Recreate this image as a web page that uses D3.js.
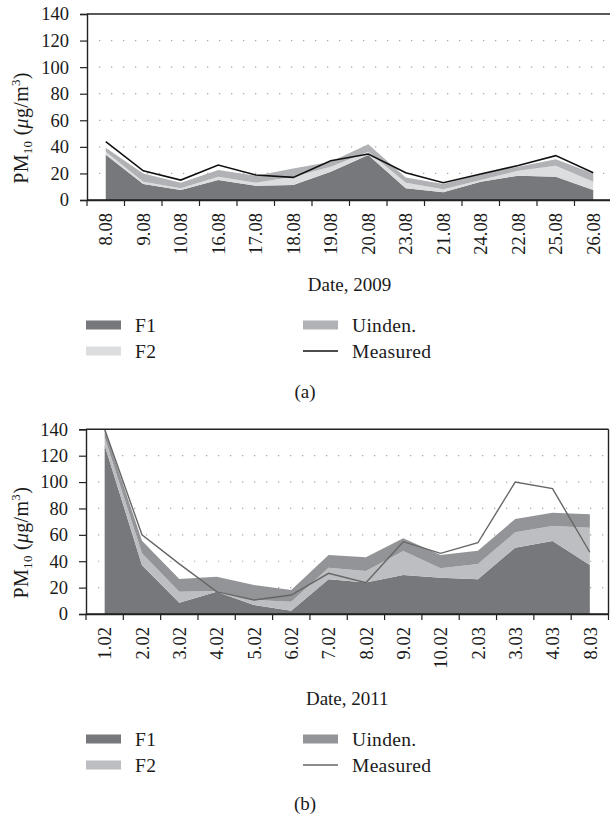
<!DOCTYPE html>
<html>
<head>
<meta charset="utf-8">
<script src="https://cdn.jsdelivr.net/npm/d3@7"></script>
<style>
  body { margin:0; background:#fff; }
  svg { display:block; font-family:"Liberation Serif", "Times New Roman", serif; }
</style>
</head>
<body>
<svg width="610" height="815"></svg>
<script>

// panel (a), 2009
var datesA = ["8.08","9.08","10.08","16.08","17.08","18.08","19.08","20.08","23.08","21.08","24.08","22.08","25.08","26.08"];
var f1A = [34, 12, 7.5, 15, 10.8, 11.3, 21.3, 33.9, 8.8, 5.8, 13.8, 18.3, 17.5, 7.5];
var f2A = [2.4, 1.8, 1.3, 2.5, 2.2, 6.2, 3.7, 2.5, 4.2, 2.2, 1.2, 3.7, 8.3, 6.3];
var unA = [3, 6.2, 4.2, 5.1, 5.3, 6.3, 3.8, 5.6, 4, 4, 4.6, 3, 4.8, 6.2];
var measA = [44, 22, 15, 26.3, 18.8, 17, 29.6, 34.6, 20.5, 13, 19.5, 26, 33.4, 20.5];

// panel (b), 2011
var datesB = ["1.02","2.02","3.02","4.02","5.02","6.02","7.02","8.02","9.02","10.02","2.03","3.03","4.03","8.03"];
var f1B = [128, 37, 8.6, 16.9, 6.8, 2.5, 26.3, 23.8, 29.6, 27.5, 26.3, 50.3, 55.3, 37.1];
var f2B = [6, 9, 8.3, 0.5, 3.8, 6.8, 8.8, 8.8, 18.2, 7.1, 11.6, 11.6, 11.4, 28.3];
var unB = [6, 9.6, 9.6, 10.9, 11.4, 8.9, 9.6, 10.4, 9.6, 10.1, 10.1, 10.1, 10.1, 10.2];
var measB = [140, 60, 38, 17, 10.6, 14.4, 30.8, 23.8, 54.8, 46, 54, 100, 95, 46.8];

var yTicks = [0, 20, 40, 60, 80, 100, 120, 140];
var keys = ["F1", "F2", "Uinden."];

var svg = d3.select("svg");

var drawPanel = function(p)
{
  var rows = p.dates.map(function(d, i) {
    return { date:d, "F1":p.f1[i], "F2":p.f2[i], "Uinden.":p.un[i], meas:p.meas[i] };
  });

  var x = d3.scaleBand().domain(p.dates).range([p.left, p.right]);
  var y = d3.scaleLinear().domain([0, 140]).range([p.bottom, p.top]);
  var cx = function(d) { return x(d.date) + x.bandwidth()/2; };

  var g = svg.append("g");

  g.append("clipPath").attr("id", "clip" + p.id)
    .append("rect")
    .attr("x", p.left).attr("y", p.top)
    .attr("width", p.right - p.left).attr("height", p.bottom - p.top);

  // dotted grid
  g.selectAll(".grid")
    .data(yTicks.slice(1, -1))
    .enter().append("line")
    .attr("x1", p.left + 12).attr("x2", p.right)
    .attr("y1", function(d) { return y(d); })
    .attr("y2", function(d) { return y(d); })
    .attr("stroke", "#a8a8a8")
    .attr("stroke-width", 1.2)
    .attr("stroke-dasharray", "1.3,10.7");

  var stack = d3.stack().keys(keys)(rows);
  var area = d3.area()
    .x(function(d) { return cx(d.data); })
    .y0(function(d) { return y(d[0]); })
    .y1(function(d) { return y(d[1]); });

  var plot = g.append("g").attr("clip-path", "url(#clip" + p.id + ")");
  plot.selectAll("path.layer")
    .data(stack)
    .enter().append("path")
    .attr("d", area)
    .attr("fill", function(d, i) { return p.colors[i]; });

  var line = d3.line()
    .x(cx)
    .y(function(d) { return y(d.meas); });
  plot.append("path")
    .datum(rows)
    .attr("d", line)
    .attr("fill", "none")
    .attr("stroke", p.lineColor)
    .attr("stroke-width", p.lineWidth);

  // frame: top and right
  g.append("line")
    .attr("x1", p.left).attr("x2", p.right)
    .attr("y1", p.top).attr("y2", p.top)
    .attr("stroke", "#222").attr("stroke-width", 1.4);
  g.append("line")
    .attr("x1", p.right).attr("x2", p.right)
    .attr("y1", p.top).attr("y2", p.bottom)
    .attr("stroke", "#222").attr("stroke-width", 1.4);

  // y axis
  var yAxis = d3.axisLeft(y).tickValues(yTicks).tickSize(7).tickPadding(11);
  var ya = g.append("g")
    .attr("transform", "translate(" + p.left + ",0)")
    .call(yAxis);
  ya.select(".domain").attr("stroke", "#222").attr("stroke-width", 1.4);
  ya.selectAll(".tick line").attr("stroke", "#222").attr("stroke-width", 1.2);
  ya.selectAll("text")
    .attr("font-family", "Liberation Serif")
    .attr("font-size", 18.5)
    .attr("fill", "#1a1a1a");

  // x axis: labels at band centres
  var xAxis = d3.axisBottom(x).tickSize(0).tickSizeOuter(0);
  var xa = g.append("g")
    .attr("transform", "translate(0," + p.bottom + ")")
    .call(xAxis);
  xa.select(".domain").attr("stroke", "#222").attr("stroke-width", 1.4);
  xa.selectAll("text")
    .attr("transform", "rotate(-90)")
    .attr("x", -13)
    .attr("y", 0)
    .attr("dy", "0.36em")
    .style("text-anchor", "end")
    .attr("font-family", "Liberation Serif")
    .attr("font-size", 18.5)
    .attr("fill", "#1a1a1a");
  // extend the baseline to the right border
  g.append("line")
    .attr("x1", p.left).attr("x2", p.right)
    .attr("y1", p.bottom).attr("y2", p.bottom)
    .attr("stroke", "#222").attr("stroke-width", 1.4);

  // ticks between categories
  var bounds = p.dates.map(function(d) { return x(d); }).concat([x.range()[1]]);
  g.selectAll(".xtick")
    .data(bounds)
    .enter().append("line")
    .attr("x1", function(d) { return d; })
    .attr("x2", function(d) { return d; })
    .attr("y1", p.bottom).attr("y2", p.bottom + 6)
    .attr("stroke", "#222").attr("stroke-width", 1.2);

  // axis titles
  g.append("text")
    .attr("x", (p.left + p.right)/2)
    .attr("y", p.bottom + 91)
    .attr("text-anchor", "middle")
    .attr("font-size", 19)
    .attr("fill", "#1a1a1a")
    .text(p.xTitle);

  var yt = g.append("text")
    .attr("transform", "translate(28," + ((p.top + p.bottom)/2 + 21) + ") rotate(-90)")
    .attr("text-anchor", "middle")
    .attr("font-size", 20)
    .attr("letter-spacing", 0.3)
    .attr("fill", "#1a1a1a");
  yt.append("tspan").text("PM");
  yt.append("tspan").attr("font-size", 13).attr("dy", 4).text("10");
  yt.append("tspan").attr("dy", -4).text(" (");
  yt.append("tspan").attr("font-style", "italic").text("μ");
  yt.append("tspan").text("g/m");
  yt.append("tspan").attr("font-size", 13).attr("dy", -8).text("3");
  yt.append("tspan").attr("dy", 8).text(")");

  // legend
  var legend = g.append("g");
  var items = [
    { name:"F1", x:86, row:0, color:p.colors[0] },
    { name:"F2", x:86, row:1, color:p.colors[1] },
    { name:"Uinden.", x:303, row:0, color:p.colors[2] },
    { name:"Measured", x:303, row:1, color:null }
  ];
  var li = legend.selectAll("g")
    .data(items)
    .enter().append("g")
    .attr("transform", function(d) { return "translate(" + d.x + "," + (p.legendTop + d.row*26) + ")"; });
  li.filter(function(d) { return d.color; })
    .append("rect")
    .attr("x", 0).attr("y", -4.5)
    .attr("width", 35).attr("height", 9)
    .attr("fill", function(d) { return d.color; });
  li.filter(function(d) { return !d.color; })
    .append("line")
    .attr("x1", 0).attr("x2", 35)
    .attr("y1", 0).attr("y2", 0)
    .attr("stroke", p.lineColor)
    .attr("stroke-width", p.lineWidth);
  li.append("text")
    .attr("x", 49).attr("y", 7)
    .attr("font-size", 19.5)
    .attr("letter-spacing", 0.3)
    .attr("fill", "#1a1a1a")
    .text(function(d) { return d.name; });

  g.append("text")
    .attr("x", 305).attr("y", p.captionY)
    .attr("text-anchor", "middle")
    .attr("font-size", 19)
    .attr("fill", "#1a1a1a")
    .text(p.caption);
};

drawPanel({
  id:"a", dates:datesA, f1:f1A, f2:f2A, un:unA, meas:measA,
  left:87, right:612, top:14, bottom:200,
  colors:["#77787b", "#dcdddf", "#b1b2b5"],
  lineColor:"#111", lineWidth:1.6,
  xTitle:"Date, 2009", legendTop:325, caption:"(a)", captionY:398
});

drawPanel({
  id:"b", dates:datesB, f1:f1B, f2:f2B, un:unB, meas:measB,
  left:86, right:608.5, top:429.3, bottom:614,
  colors:["#77787b", "#bdbec1", "#939497"],
  lineColor:"#666", lineWidth:1.4,
  xTitle:"Date, 2011", legendTop:739, caption:"(b)", captionY:810
});

</script>
</body>
</html>
